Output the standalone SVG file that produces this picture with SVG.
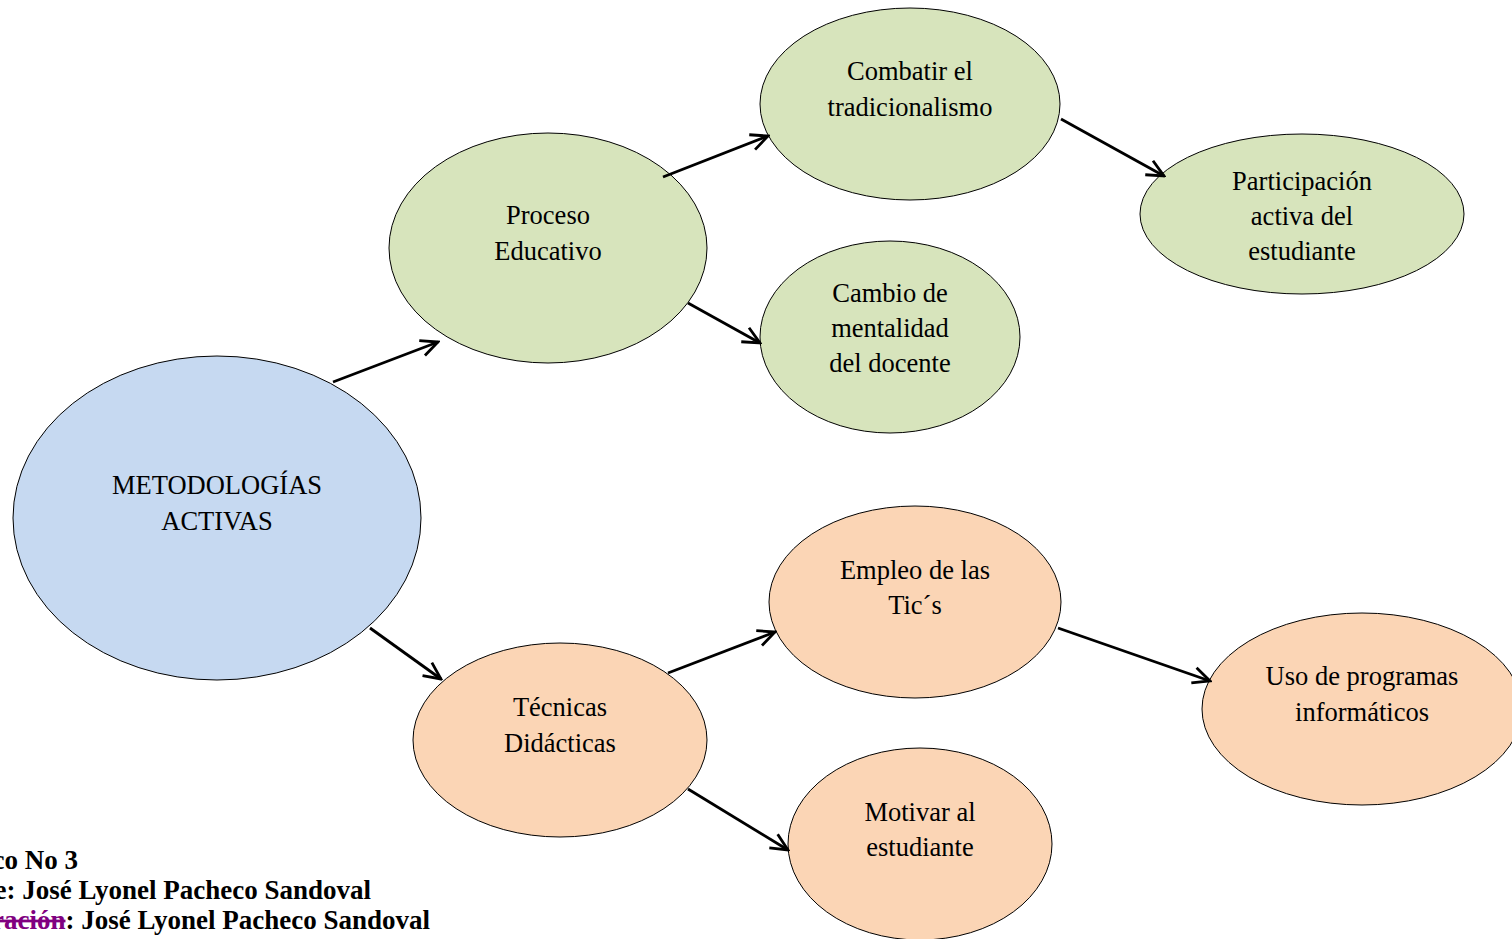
<svg xmlns="http://www.w3.org/2000/svg" width="1512" height="939" viewBox="0 0 1512 939">
<style>
.n{stroke:#000;stroke-width:1}
.g{fill:#d7e4bc}.b{fill:#c6d9f1}.o{fill:#fbd5b5}
.t{font-family:"Liberation Serif","Times New Roman",serif;font-size:26.5px;fill:#000;text-anchor:middle}
.c line{stroke:#000;stroke-width:2.8;marker-end:url(#ah)}
.cap{font-family:"Liberation Serif","Times New Roman",serif;font-size:27px;font-weight:bold;fill:#000;text-anchor:end}
</style>
<defs>
<marker id="ah" markerUnits="userSpaceOnUse" viewBox="0 0 22 22" markerWidth="22" markerHeight="22" refX="20" refY="11" orient="auto">
<path d="M3,3 L20,11 L3,19" fill="none" stroke="#000" stroke-width="2.8"/>
</marker>
</defs>
<rect width="1512" height="939" fill="#fff"/>
<g id="metodologias"><ellipse class="n b" cx="217" cy="518" rx="204" ry="162"/><text class="t" x="217" y="494">METODOLOGÍAS</text><text class="t" x="217" y="530">ACTIVAS</text></g>
<g id="proceso"><ellipse class="n g" cx="548" cy="248" rx="159" ry="115"/><text class="t" x="548" y="224">Proceso</text><text class="t" x="548" y="260">Educativo</text></g>
<g id="combatir"><ellipse class="n g" cx="910" cy="104" rx="150" ry="96"/><text class="t" x="910" y="80">Combatir el</text><text class="t" x="910" y="116">tradicionalismo</text></g>
<g id="participacion"><ellipse class="n g" cx="1302" cy="214" rx="162" ry="80"/><text class="t" x="1302" y="190">Participación</text><text class="t" x="1302" y="225">activa del</text><text class="t" x="1302" y="260">estudiante</text></g>
<g id="cambio"><ellipse class="n g" cx="890" cy="337" rx="130" ry="96"/><text class="t" x="890" y="302">Cambio de</text><text class="t" x="890" y="337">mentalidad</text><text class="t" x="890" y="372">del docente</text></g>
<g id="tecnicas"><ellipse class="n o" cx="560" cy="740" rx="147" ry="97"/><text class="t" x="560" y="716">Técnicas</text><text class="t" x="560" y="752">Didácticas</text></g>
<g id="empleo"><ellipse class="n o" cx="915" cy="602" rx="146" ry="96"/><text class="t" x="915" y="579">Empleo de las</text><text class="t" x="915" y="614">Tic´s</text></g>
<g id="uso"><ellipse class="n o" cx="1362" cy="709" rx="160" ry="96"/><text class="t" x="1362" y="685">Uso de programas</text><text class="t" x="1362" y="721">informáticos</text></g>
<g id="motivar"><ellipse class="n o" cx="920" cy="844" rx="132" ry="96"/><text class="t" x="920" y="821">Motivar al</text><text class="t" x="920" y="856">estudiante</text></g>
<g id="connectors" class="c">
<line x1="333" y1="382" x2="438" y2="342"/>
<line x1="370" y1="628" x2="441" y2="679"/>
<line x1="663" y1="177" x2="768" y2="136"/>
<line x1="688" y1="303" x2="760" y2="343"/>
<line x1="1061" y1="119" x2="1164" y2="176"/>
<line x1="668" y1="673" x2="775" y2="632"/>
<line x1="688" y1="789" x2="788" y2="850"/>
<line x1="1058" y1="628" x2="1210" y2="681"/>
</g>
<g id="caption">
<text class="cap" x="78" y="869">Gráfico No 3</text>
<text class="cap" x="371" y="899">Fuente: José Lyonel Pacheco Sandoval</text>
<text class="cap" x="430" y="929"><tspan fill="#800080" text-decoration="line-through">Elaboración</tspan>: José Lyonel Pacheco Sandoval</text>
</g>
</svg>
